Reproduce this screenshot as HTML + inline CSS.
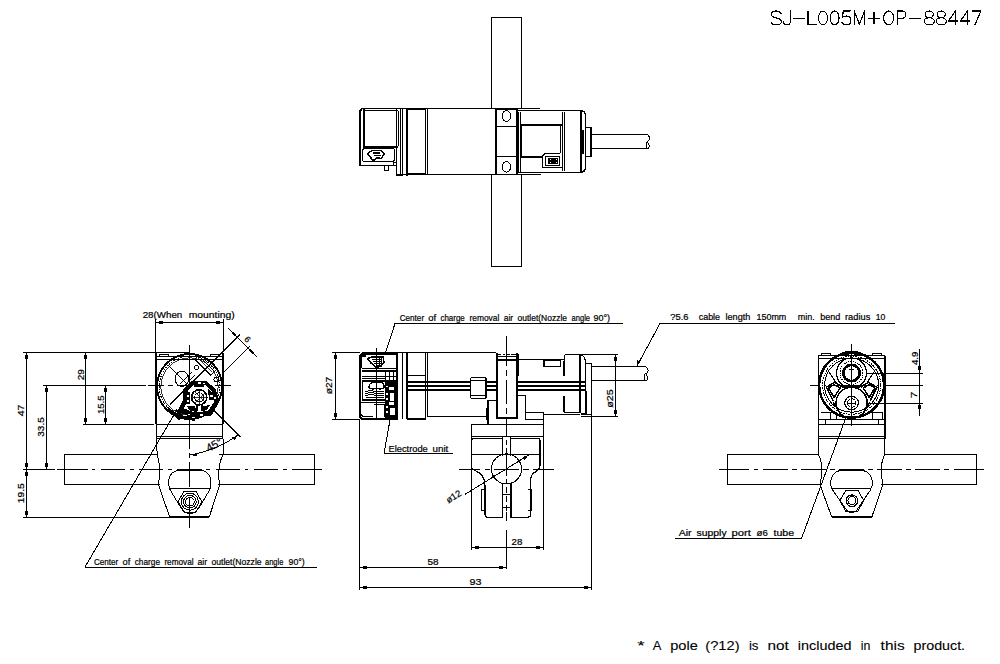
<!DOCTYPE html>
<html><head><meta charset="utf-8"><style>
html,body{margin:0;padding:0;background:#fff;width:1000px;height:664px;overflow:hidden}
svg{display:block}
text{font-family:"Liberation Sans",sans-serif;fill:#000;stroke:#000;stroke-width:0.22px}
</style></head><body>
<svg shape-rendering="crispEdges" width="1000" height="664" viewBox="0 0 1000 664">
<g fill="none" stroke="#000" stroke-width="1" stroke-linecap="square">
<!-- ===== TITLE ===== -->
</g>
<g fill="none" stroke="#000" stroke-width="1.15" stroke-linejoin="round" stroke-linecap="round">
<path d="M781 13.6C780 11.8 778 11 776.2 11C773.2 11 771.5 12.6 771.5 14.5C771.5 16.6 773.5 17.3 776.2 17.9C779.3 18.6 781.5 19.5 781.5 21.6C781.5 23.6 779.5 24.8 776.2 24.8C773.6 24.8 771.8 23.8 771 22.2"/>
<path d="M790.5 11V21C790.5 23.5 789 24.8 787 24.8C785 24.8 783.6 23.6 783.2 21.8"/>
<path d="M793 18.2H804.6M808 11V24.8H816.2"/>
<ellipse cx="823" cy="17.9" rx="4.5" ry="6.9"/>
<ellipse cx="834.6" cy="17.9" rx="4.5" ry="6.9"/>
<path d="M850.3 11H843.2L842.6 17.2C844 16.3 845.3 16 846.6 16C849.3 16 850.8 17.9 850.8 20.4C850.8 23 849 24.8 846.4 24.8C844.3 24.8 842.8 24 842 22.6"/>
<path d="M854.3 24.8V11L859.4 24.3L864.5 11V24.8"/>
<path d="M868 18.2H880M874 12.2V24.2"/>
<ellipse cx="888.7" cy="17.9" rx="5" ry="6.9"/>
<path d="M897.2 24.8V11H902C904.5 11 905.8 12.5 905.8 14.6C905.8 16.7 904.5 18.2 902 18.2H897.2"/>
<path d="M909.4 18.4H920.8"/>
<ellipse cx="929.2" cy="14.4" rx="4.1" ry="3.4"/>
<ellipse cx="929.2" cy="21.3" rx="5.1" ry="3.5"/>
<ellipse cx="941.2" cy="14.4" rx="4.1" ry="3.4"/>
<ellipse cx="941.2" cy="21.3" rx="5.1" ry="3.5"/>
<path d="M955.5 24.8V11L948.4 21H958M967.5 24.8V11L960.4 21H970"/>
<path d="M971.8 11H980.8L975 24.8"/>
</g>

<!-- ===== TOP VIEW ===== -->
<g id="top" fill="none" stroke="#000" stroke-width="1">
  <!-- pole -->
  <path d="M491.5 108V17.5H521.5V108M491.5 175V266.5H521.5V175"/>
  <!-- left connector cap -->
  <path d="M359.8 165.7V111L362 108.5" stroke-width="2"/>
  <path d="M361.5 108.5H402.5M364 110.5H398M359.5 165.7H393.5V162H396.5M393.5 165.7H396.5"/>
  <path d="M363.6 109V147" stroke-width="2"/>
  <path d="M398 110.5V146M400.5 108.5V175.5M396.5 108.5V175.5M402.5 108.5V175.5M396.5 175.5H402.5"/>
  <path d="M363 146.7H398" stroke-width="2"/>
  <rect x="362.5" y="148.5" width="32" height="13" rx="2.5"/>
  <path d="M384.5 165.7V170.5H388.5V165.7"/>
  <!-- connector icon -->
  <path d="M367.5 153.5L372 150.5H381.5L384 154L381.5 158.5H376L374 160H372.5Z" stroke-width="1.5"/>
  <path d="M373 153H380M374 155.5H381M376 158H380" stroke-width="1.2"/>
  <!-- block -->
  <path d="M406.5 108.5V175.5" stroke-width="2"/>
  <path d="M407.5 108.5H425.5V174.5H407.5Z" stroke-width="1"/>
  <path d="M407 109.2H425M407 173.8H425" stroke-width="2"/>
  <path d="M427 108.5V174.5"/>
  <path d="M361.5 108.5H540M396.5 174.5H540"/>
  <!-- main cylinder -->
  <path d="M427.5 108.5H495.5V174.5H427.5" />
  <path d="M495.5 108.5V175" stroke-width="2"/>
  <!-- clamp block -->
  <rect x="496.5" y="109" width="20" height="65.5" rx="2"/>
  <path d="M516.8 109V175" stroke-width="1.8"/>
  <path d="M496.5 126.5H516.5M496.5 156.5H516.5" stroke-width="1.5"/>
  <ellipse cx="506.4" cy="116" rx="4.3" ry="5.3"/>
  <ellipse cx="506.4" cy="166.9" rx="4.3" ry="5.3"/>
  <!-- right section -->
  <path d="M517 110.5H580.5M516 172.5H580.5"/>
  <path d="M518 108.5H540M516 174.5H540.5"/>
  <path d="M518.5 111.5V172M520 111.5V172M521.5 126V157"/>
  <path d="M520 125.2H562.5" stroke-width="2.2"/>
  <path d="M520 157H541.5" stroke-width="2"/>
  <path d="M562.5 111.5V171M564.5 111.5V171"/>
  <path d="M560.5 126V152.5L559.5 153.5H545L542.5 156V167H562.5"/>
  <rect x="545.5" y="156.5" width="14" height="9" rx="1"/>
  <rect x="548" y="158" width="10" height="6" fill="#000" stroke="none"/>
  <path d="M549.5 159.5h1M556 159.5h1M549.5 162.5h1M556 162.5h1" stroke="#fff" stroke-width="1"/>
  <!-- end cap -->
  <path d="M580.7 110.5V172.5" stroke-width="1.8"/>
  <path d="M580.5 110.5Q585 111 585.5 115V168Q585 172 580.5 172.5" stroke-width="1.5"/>
  <path d="M583 130V154" stroke-width="2"/>
  <!-- gland -->
  <path d="M586 127.5H591.5V156.5H586M590 128V156"/>
  <!-- cable -->
  <path d="M591.5 134.5H648M591.5 148.5H648" stroke-width="1.2"/>
  <path d="M647.5 134.5Q650 136 649 140Q647 142 648 143Q650 145 649 147Q648.5 148.5 647 148.5M648 141.5Q646 142 646 145Q646 148 647 148.5"/>
</g>

<!-- ===== LEFT VIEW ===== -->
<g id="left" fill="none" stroke="#000" stroke-width="1">
  <!-- dimension & extension lines -->
  <path d="M23 352.5H190M43 385.5H146M83 424.5H154M23 517.5H170M23 469.5H55"/>
  <path d="M26.5 352.5V517.5M85.5 352.5V424.5M46.5 385.5V469.5M105.5 385.5V424.5"/>
  <path d="M155.5 319V352M223.5 319V352M155.5 322.5H223.5"/>
  <!-- center lines -->
  <path d="M57.2 469.5H87.5M91.7 469.5H95.3M101 469.5H125M129.5 469.5H133.5M139 469.5H163M167.5 469.5H171.5M177.5 469.5H201.5M206 469.5H210M216 469.5H240M244.5 469.5H248M254 469.5H278M282.5 469.5H286.5M292 469.5H321.6"/>
  <path d="M135 385.5H145.5M148 385.5H163.5M167.5 385.5H173M177 385.5H200M206 385.5H208M214.5 385.5H231"/>
  <path d="M189.5 344.5V448.8M189.5 452.9V457.6M189.5 462.4V487M189.5 497V528.2"/>
  <!-- pole -->
  <path d="M158 454.5H64.5V484.5H160M219 454.5H314.5V484.5H218"/>
  <!-- body -->
  <path d="M156 353V424M223 353V424" stroke-width="2"/><path d="M156.5 424V438.5M222.5 424V438.5"/>
  <path d="M156 356.5H223M156 359.5H223M156 424.5H223M156 436.5H223M156 438.5H223"/>
  <rect x="159.5" y="354.5" width="9" height="2"/>
  <rect x="210.5" y="354.5" width="9" height="2"/>
  <!-- clamp -->
  <path d="M156.7 438.5L157.1 454.2Q161.5 469 158.4 484.6L169.5 516.5H209.4L219.8 484.6Q216.5 469 223 454.2V438.5"/>
  <path d="M169.5 517H209.4" stroke-width="1.5"/>
  <path d="M169.5 488.8H210.3M169.5 488.8C167 478 170 470 182 470H197.5C209.5 470 212.5 478 210.3 488.8L199 508Q195 513.5 189.8 513.5Q184.5 513.5 181 508Z"/>
  <path d="M177 470H184M194 470H201" stroke-width="2"/>
  <polygon points="178,501.7 184,491.3 196,491.3 201.8,501.7 196,512 184,512"/>
  <circle cx="189.9" cy="501.7" r="8.5"/>
  <circle cx="189.9" cy="501.7" r="6.3"/>
  <circle cx="189.9" cy="501.7" r="4.3"/>
  <!-- main circle -->
  <circle cx="189.5" cy="386.5" r="32.5" stroke-width="2"/>
  <circle cx="189.5" cy="386.5" r="30.2" stroke-dasharray="1.6 1"/><circle cx="189.5" cy="386.5" r="28.6" stroke-width="0.8"/>
  <!-- diagonal lines -->
  <path d="M167.7 364.6L186 383M213.5 410L222 418.5M170.2 404.3L224 350.5"/>
  <!-- nozzle rect rotated -->
  <path d="M198.5 355.5L214.5 371.8L210.8 375.5L194.8 359.2Z"/><path d="M198.5 357.5L212.5 371.8" stroke-width="0.8"/>
  <!-- tube ellipse -->
  <ellipse cx="181.8" cy="378.8" rx="6.8" ry="7.6"/>
  <path d="M180 384L192 372M183 387L195 375"/>
  <circle cx="196.5" cy="367.5" r="2"/>
  <circle cx="216.5" cy="379.5" r="2.5"/>
  <!-- dark mechanism -->
  <polygon points="183.5,389.4 192.3,380.5 207,381.5 215.5,389 219.5,401.2 211.5,415.5 192.3,417.5 177,411.5 183,400" fill="#000" stroke="none"/>
  <polygon points="187.5,391 194,384.5 205,385 211.5,391 214.5,401 208,411 194,412.5 184,408.5 187.5,400" fill="#fff" stroke="none"/>
  <g fill="#fff" stroke="none">
    <rect x="198" y="382" width="3" height="1.5"/>
    <rect x="203" y="382.5" width="2" height="1.5"/>
    <rect x="188" y="413.5" width="2" height="1.5"/>
    <rect x="200" y="414" width="3" height="1.5"/>
    <rect x="214" y="397" width="1.5" height="2"/>
  </g>
  <g fill="#000" stroke="none">
    <rect x="186" y="392" width="4" height="12"/>
    <polygon points="208,389 212,392 214,400 209,400"/>
    <polygon points="187,406 195,406 197,412 190,411"/>
    <polygon points="203,406 210,405 207,410 202,411"/>
  </g>
  <g fill="#fff" stroke="none">
    <rect x="187" y="395" width="2" height="2"/>
    <rect x="187" y="399.5" width="2" height="2"/>
    <rect x="209.5" y="395" width="3" height="2"/>
  </g>
  <g stroke="#000">
    <circle cx="199.2" cy="397.3" r="7.6" stroke-width="1.6"/>
    <circle cx="199.2" cy="397.3" r="4.5" stroke-width="1"/>
    <path d="M199.2 389.5V405M191.5 397.3H207M193.5 391.6L205 403M205 391.6L193.5 403" stroke-width="0.8"/>
    <path d="M196.8 404.5V411M201.6 404.5V411" stroke-width="1.8"/>
    <path d="M194 385.5H204" stroke-width="2"/>
  </g>
  <path d="M168 409Q180 419 195 419.3" stroke-width="3"/>
  <path d="M176 410L184 418M172 412L180 420" stroke-width="2"/>
  <!-- leader to bottom text -->
  <path d="M85 567L175 413"/>
  <path d="M84.5 567.5H317"/>
  <!-- 6 dim -->
  <path d="M223.5 372.5L250 346M228.5 328.5L257 357M224 350.5L239.8 334.7"/>
  <path d="M232.3 332.3L236 336M249.3 349.3L253.2 353.2" stroke-width="2.6"/>
  <!-- 45 deg -->
  <path d="M213.5 410L240.5 437M190.5 455Q218 450 238 434.9"/>
</g>
<g fill="#000">
  <!-- arrows vertical -->
  <rect x="25" y="355" width="3" height="4"/>
  <rect x="25" y="463" width="3" height="4"/>
  <rect x="25" y="472" width="3" height="4"/>
  <rect x="25" y="511" width="3" height="4"/>
  <rect x="84" y="355" width="3" height="4"/>
  <rect x="84" y="418" width="3" height="4"/>
  <rect x="45" y="388" width="3" height="4"/>
  <rect x="45" y="463" width="3" height="4"/>
  <rect x="104" y="388" width="3" height="4"/>
  <rect x="104" y="418" width="3" height="4"/>
  <rect x="159" y="321" width="4" height="3"/>
  <rect x="216" y="321" width="4" height="3"/>
  <path d="M190.5 455L196.5 453L196.5 456.5Z"/>
  <path d="M238 434.9L232.5 437.5L234.5 440.3Z"/>
</g>


<!-- ===== MIDDLE VIEW ===== -->
<g id="mid" fill="none" stroke="#000" stroke-width="1">
  <!-- dims -->
  <path d="M332 352.5H360M332 419.5H360M335.5 352.5V419.5"/>
  <path d="M359.5 419V590M591.5 381V590M471.5 517V550M543.5 415V550"/>
  <path d="M359.5 567.5H506.5M359.5 587.5H591.5M471.5 547.5H543.5"/>
  <path d="M581 354.5H618M581 416.5H618M615.5 354.5V416.5"/>
  <!-- body left cap -->
  <path d="M362 352.5H496" stroke-width="1.2"/>
  <path d="M359.8 356V416.5L362 418.8H398M359.8 356L362.5 353.3H397" stroke-width="2"/>
  <path d="M361.5 368V357Q361.5 354.5 364 354.5H396M361.5 368H396" stroke-width="1"/>
  <path d="M362 355.5H366" stroke-width="2"/>
  <path d="M362 370.5H396M362 371.8H396M362 376.5H396M362 378.5H385M362 380H385" />
  <rect x="362.5" y="381.5" width="22.5" height="17.5"/>
  <path d="M362 400.5H385M361 402.5H385"/>
  <path d="M373.5 404.5H385V417" stroke-width="1.5"/>
  <path d="M361 414.5L363 416.5H373" stroke-width="1"/>
  <path d="M396.5 353V419.5" stroke-width="2"/>
  <path d="M402.5 353V419M406.5 353V419M407.5 353V419"/>
  <!-- connector symbol top window -->
  <path d="M367.5 358.5L372 357H383L384 362L381 366L376 367.5L371 363Z" stroke-width="1.5"/>
  <path d="M372 359.5H382M372.5 361.5H382M374 363.5H381M375.5 365.5H380" stroke-width="1.1"/>
  <path d="M379 357V367M381.5 358V365" stroke-width="1"/>
  <!-- middle face + hatch -->
  <path d="M369 386Q370 382.5 374 382.5H381Q384 382.5 384 386V388Q380 390 376.5 388Q373 390 369 388Z" stroke-width="1.2"/>
  <path d="M365 391.5L371 390.5L377 392L384 391M365 393.5L372 392.5L378 394L384 393M365 395.5L372 394.5L378 396L384 395M366 397.5H384" stroke-width="1"/>
  <!-- dark column -->
  <path d="M385 380h11.5v39.5h-11.5z" fill="#000" stroke="none"/>
  <g fill="#fff" stroke="none">
    <rect x="386" y="385.5" width="1.6" height="1.6"/>
    <rect x="389" y="386.5" width="5" height="3.8"/>
    <rect x="386" y="392.5" width="1.6" height="2"/>
    <rect x="390" y="392.5" width="4" height="8"/>
    <rect x="386" y="398" width="1.6" height="1.6"/>
    <rect x="388.5" y="402" width="5.5" height="2.6"/>
    <rect x="386" y="406" width="1.6" height="1.6"/>
    <rect x="389.5" y="408" width="5" height="7"/>
    <rect x="386" y="411" width="1.6" height="1.6"/>
  </g>
  <path d="M385 371V380M389 371V380M393 371V380" stroke-width="1"/>
  <!-- cylinder -->
  <path d="M425.5 353V419M427.5 353V416.5"/>
  <path d="M407 418.8H426" stroke-width="2"/>
  <path d="M427 416.5H488M425.5 416.5L424.5 419" />
  <path d="M408 375.5H426" stroke-width="1.5"/>
  <path d="M408 381.5H470M408 386H470M408 390H470M518 382H585M518 386H585M518 390H585" stroke-width="2"/>
  <path d="M487 381.5H496M487 386H496M487 390H496" stroke-width="2"/>
  <!-- nut -->
  <path d="M470.5 378V398M486 378V398" stroke-width="1.5"/>
  <path d="M471 377.5H485.5Q486 377.5 486 379M471 380.5H486M471 395.5H486M471 398.5H486"/>
  <!-- pole block -->
  <path d="M496.5 353V417.5H517V353" stroke-width="2"/>
  <path d="M497 354.8H501M503 354.8H504.5M505.5 354.8H510M511 354.8H516M497 356.5H516"/><path d="M497 359.5H516" stroke-width="2"/><path d="M517 354.5H518.5V359.5"/>
  <path d="M518.5 358V376M517.5 359.5H564.5" />
  <path d="M543.5 360.5H560.5V366H543.5Z"/>
  <path d="M544 360.5V366.5" stroke-width="2"/>
  <path d="M563.5 361V375.5M563.5 396V411.5" stroke-width="1.5"/>
  <path d="M564.5 354.5H580V412.5H564.5M564.5 354.5V375.5M564.5 396V412.5"/>
  <path d="M580 354.5V413" stroke-width="2"/>
  <path d="M580.5 354.5Q585 356 585.5 362V414H581M585.5 382V414" stroke-width="1.2"/>
  <path d="M585.5 363H591.5V414.5H585.5M586 391V414M591.5 414.5V416"/>
  <!-- step around pole -->
  <path d="M488 424V400.5H496M487 408V420" stroke-width="1.5"/>
  <path d="M518 395.5H525.5V412.5H543.5V419.5H525.5V412.5"/>
  <path d="M543.5 414.5H580" />
  <!-- cable -->
  <path d="M591.5 366.5H646M591.5 380.5H646" stroke-width="1.2"/>
  <path d="M645.5 366.5Q648.5 368 648 372Q646 374 646.5 375Q648.5 377 648 379Q647.5 380.5 645.5 380.5M646 373.5Q644 374 644 377Q644 380 645.5 380.5"/>
  <!-- center vertical (pole) -->
  <path d="M506.5 336V365.8M506.5 369.7V376M506.5 380V404M506.5 408V413.8M506.5 417.7V437M506.5 440V445M506.5 448V476M506.5 479V484M506.5 487V493M506.5 496V502M506.5 505V511M506.5 512V521M506.5 530V569"/>
  <path d="M376.5 348V420"/>
  <!-- clamp -->
  <rect x="471.5" y="424.5" width="72" height="11.5"/>
  <path d="M471.5 424.5V550M543.5 414.5V550"/>
  <path d="M472 440Q472 438.5 474 438.5H501.5M511 438.5H538Q540 438.5 540 440V465Q540 469 536 471.5Q531 474 530.5 480V514.5Q530.5 517.3 527.5 517.3H511V484M502.5 484V517.3H488Q485 517.3 485 514.5V486Q485 478 480 473.5Q474 469.5 472 468.6" stroke-width="1.2"/>
  <path d="M472 454.5H540M502.5 437V456M510.5 437V456M502.5 483V517M510.5 483V517M502.5 494.5H510.5M502.5 507.5H510.5"/>
  <path d="M485 489.4H481V510H485M528 489.4H531V510H528"/>
  <circle cx="506.5" cy="468.9" r="15"/>
  <path d="M459.2 469.5H480.2M485 469.5H489.7M493.9 469.5H519M523.3 469.5H528.5M532.7 469.5H553.7"/>
  <path d="M465 494.4L528.7 455"/>
  <!-- leaders and labels -->
  <path d="M395 323.5H622.5M395 323.5L385.5 353"/>
  <path d="M384 453.5H453M384 453.5L390 420"/>
  <path d="M660 323.5H895M660 323.5L637 366"/>
</g>
<g fill="#000">
  <rect x="334" y="355" width="3" height="4"/>
  <rect x="334" y="413" width="3" height="4"/>
  <rect x="614" y="357" width="3" height="4"/>
  <rect x="614" y="410" width="3" height="4"/>
  <rect x="363" y="566" width="4" height="3"/>
  <rect x="499" y="566" width="4" height="3"/>
  <rect x="363" y="586" width="4" height="3"/>
  <rect x="584" y="586" width="4" height="3"/>
  <rect x="475" y="546" width="4" height="3"/>
  <rect x="536" y="546" width="4" height="3"/>
  <path d="M637 366L636.5 360L640.5 361.5Z"/>
  <path d="M528.7 455L522.5 457L524.5 460Z"/>
  <path d="M489.5 479.3L495.8 477.4L493.8 474.4Z"/>
</g>


<!-- ===== RIGHT VIEW ===== -->
<g id="right" fill="none" stroke="#000" stroke-width="1">
  <!-- pole -->
  <path d="M818 454.5H727.5V484.5H822M885 454.5H976.5V484.5H881"/>
  <path d="M719 469.5H749.4M754.2 469.5H758.2M763 469.5H787.9M792 469.5H796.7M801.4 469.5H825.6M830 469.5H834.5M839 469.5H863.5M868.2 469.5H873.1M877.3 469.5H901.8M906 469.5H911M915.1 469.5H939.6M943.8 469.5H948.7M953.6 469.5H983.75"/>

  <path d="M839 469.5H846M856 469.5H863" stroke-width="2"/>
  <!-- body -->
  <path d="M818.5 356V438.5M885 356V438.5" stroke-width="1.5"/>
  <path d="M818 355.5H885M818 358.5H885M818 419.5H885M818 424.5H885M818 436.5H885M818 438.5H885"/>
  <rect x="821.5" y="353.5" width="9" height="2"/>
  <rect x="872.5" y="353.5" width="9" height="2"/>
  <path d="M820.5 412.5H836V419M867 412.5H882.5V419M825.5 419.5V424M878 419.5V424M830.5 412.5V419M872.5 412.5V419"/>
  <!-- circles -->
  <circle cx="851.6" cy="385.2" r="32.5" stroke-width="2.5"/>
  <circle cx="851.6" cy="385.2" r="29" stroke-width="1" stroke-dasharray="1.5 1"/>
  <circle cx="851.6" cy="385.2" r="27"/>
  <circle cx="851.5" cy="373" r="15" stroke-width="1.2"/>
  <circle cx="851.5" cy="373" r="11.5" stroke-width="1" stroke-dasharray="1.2 1"/>
  <circle cx="851.5" cy="373" r="8.2" stroke-width="2.8"/>
  <path d="M849 369.5H854M851.6 369.5V375" stroke-width="1"/>
  <path d="M841 354.5Q851.6 350.5 862 354.5" stroke-width="3.5"/>
  <circle cx="851.6" cy="402.8" r="15.5" stroke-width="1.5"/>
  <circle cx="851.6" cy="403" r="6.8" stroke-width="1.2"/>
  <circle cx="851.6" cy="403" r="4.2"/>
  <path d="M847 403H856M851.6 399V407"/>
  <!-- side notches -->
  <path d="M842.7 387.3L834.8 382.2L826.3 387.3L833 400.8M828.5 388L834 384.5L840 388L834 397.5Z" stroke-width="1.5"/>
  <path d="M860.5 387.3L868.4 382.2L876.9 387.3L870.2 400.8M874.7 388L869.2 384.5L863.2 388L869.2 397.5Z" stroke-width="1.5"/>
  <path d="M843 386.7H860" stroke-width="2"/>
  <path d="M836 382.5L829 372M867 382.5L874 372M833 402L839 410M870 402L864 410" stroke-width="1"/>
  <!-- center lines -->
  <path d="M810 385.5H820M824 385.5H826M830 385.5H873M877 385.5H879M883 385.5H923"/>
  <path d="M851.5 344V426"/>
  <path d="M866 373.5H923M866 403.5H923M919.5 349V415.5"/>
  <!-- clamp -->
  <path d="M818.5 438.5V454.5Q821.8 461 821.8 469.5Q821.8 477 820 484.5L831.5 516.5H872L883 484.5Q881.3 477 881.3 469.5Q881.3 461 884.8 454.5V438.5"/>
  <path d="M831.5 517H872" stroke-width="1.5"/>
  <path d="M832 488.5H871M831.5 488.5C829 478 832.5 470 845 470H858C870.5 470 874 478 871.5 488.5L856.5 510.5Q851.7 515 847 510.5Z"/>
  <polygon points="839.8,500.7 845.8,490.4 857.9,490.4 863.9,500.7 857.9,511 845.8,511"/>
  <circle cx="851.9" cy="500.7" r="5.8" stroke-width="1.2"/>
  <circle cx="851.9" cy="500.7" r="4"/>
  <!-- leader -->
  <path d="M675 538.5H801.5L845.6 418.3"/>
</g>
<g fill="#000">
  <rect x="918" y="366" width="3" height="4"/>
  <rect x="918" y="405" width="3" height="4"/>
</g>

<g id="texts">
<text x="399.7" y="321" font-size="9.3" textLength="24.4" lengthAdjust="spacingAndGlyphs">Center</text>
<text x="428.3" y="321" font-size="9.3" textLength="7.9" lengthAdjust="spacingAndGlyphs">of</text>
<text x="440.4" y="321" font-size="9.3" textLength="24.4" lengthAdjust="spacingAndGlyphs">charge</text>
<text x="469.5" y="321" font-size="9.3" textLength="29.8" lengthAdjust="spacingAndGlyphs">removal</text>
<text x="503.7" y="321" font-size="9.3" textLength="9.5" lengthAdjust="spacingAndGlyphs">air</text>
<text x="517.5" y="321" font-size="9.3" textLength="49.5" lengthAdjust="spacingAndGlyphs">outlet(Nozzle</text>
<text x="571.6" y="321" font-size="9.3" textLength="18.4" lengthAdjust="spacingAndGlyphs">angle</text>
<text x="593.4" y="321" font-size="9.3" textLength="16.7" lengthAdjust="spacingAndGlyphs">90°)</text>
<text x="93.9" y="564.8" font-size="9.3" textLength="24.4" lengthAdjust="spacingAndGlyphs">Center</text>
<text x="122.6" y="564.8" font-size="9.3" textLength="7.7" lengthAdjust="spacingAndGlyphs">of</text>
<text x="134.7" y="564.8" font-size="9.3" textLength="25.3" lengthAdjust="spacingAndGlyphs">charge</text>
<text x="164.4" y="564.8" font-size="9.3" textLength="29.2" lengthAdjust="spacingAndGlyphs">removal</text>
<text x="197.5" y="564.8" font-size="9.3" textLength="9.7" lengthAdjust="spacingAndGlyphs">air</text>
<text x="211.5" y="564.8" font-size="9.3" textLength="50.1" lengthAdjust="spacingAndGlyphs">outlet(Nozzle</text>
<text x="265.1" y="564.8" font-size="9.3" textLength="18.2" lengthAdjust="spacingAndGlyphs">angle</text>
<text x="288.5" y="564.8" font-size="9.3" textLength="16.2" lengthAdjust="spacingAndGlyphs">90°)</text>
<text x="670.3" y="319.8" font-size="9.3" textLength="18.2" lengthAdjust="spacingAndGlyphs">?5.6</text>
<text x="698.7" y="319.8" font-size="9.3" textLength="21.4" lengthAdjust="spacingAndGlyphs">cable</text>
<text x="725.5" y="319.8" font-size="9.3" textLength="24.8" lengthAdjust="spacingAndGlyphs">length</text>
<text x="756.5" y="319.8" font-size="9.3" textLength="29.8" lengthAdjust="spacingAndGlyphs">150mm</text>
<text x="797.7" y="319.8" font-size="9.3" textLength="17.1" lengthAdjust="spacingAndGlyphs">min.</text>
<text x="820.2" y="319.8" font-size="9.3" textLength="20.1" lengthAdjust="spacingAndGlyphs">bend</text>
<text x="845.0" y="319.8" font-size="9.3" textLength="25.3" lengthAdjust="spacingAndGlyphs">radius</text>
<text x="875.7" y="319.8" font-size="9.3" textLength="9.6" lengthAdjust="spacingAndGlyphs">10</text>
<text x="142.7" y="317.5" font-size="9.6" textLength="39.6" lengthAdjust="spacingAndGlyphs">28(When</text>
<text x="188.7" y="317.5" font-size="9.6" textLength="46.1" lengthAdjust="spacingAndGlyphs">mounting)</text>
<text x="678.7" y="535.9" font-size="9.3" textLength="12.9" lengthAdjust="spacingAndGlyphs">Air</text>
<text x="696.6" y="535.9" font-size="9.3" textLength="30.0" lengthAdjust="spacingAndGlyphs">supply</text>
<text x="731.6" y="535.9" font-size="9.3" textLength="19.3" lengthAdjust="spacingAndGlyphs">port</text>
<text x="756.6" y="535.9" font-size="9.3" textLength="11.2" lengthAdjust="spacingAndGlyphs">ø6</text>
<text x="773.5" y="535.9" font-size="9.3" textLength="20.6" lengthAdjust="spacingAndGlyphs">tube</text>
<text x="388.5" y="451.8" font-size="9.3" textLength="39.3" lengthAdjust="spacingAndGlyphs">Electrode</text>
<text x="432.5" y="451.8" font-size="9.3" textLength="15.8" lengthAdjust="spacingAndGlyphs">unit</text>
<text x="511.6" y="544.9" font-size="9.1" textLength="10.8" lengthAdjust="spacingAndGlyphs">28</text>
<text x="427.4" y="565" font-size="9.1" textLength="11.1" lengthAdjust="spacingAndGlyphs">58</text>
<text x="469.4" y="584.8" font-size="9.1" textLength="12.0" lengthAdjust="spacingAndGlyphs">93</text>
<text x="637.3" y="649.5" font-size="13" style="stroke-width:0.1px" textLength="7.4" lengthAdjust="spacingAndGlyphs">*</text>
<text x="652.7" y="649.5" font-size="13" style="stroke-width:0.1px" textLength="8.6" lengthAdjust="spacingAndGlyphs">A</text>
<text x="670.2" y="649.5" font-size="13" style="stroke-width:0.1px" textLength="27.6" lengthAdjust="spacingAndGlyphs">pole</text>
<text x="705.3" y="649.5" font-size="13" style="stroke-width:0.1px" textLength="34.3" lengthAdjust="spacingAndGlyphs">(?12)</text>
<text x="748.9" y="649.5" font-size="13" style="stroke-width:0.1px" textLength="9.6" lengthAdjust="spacingAndGlyphs">is</text>
<text x="767.4" y="649.5" font-size="13" style="stroke-width:0.1px" textLength="21.3" lengthAdjust="spacingAndGlyphs">not</text>
<text x="797.8" y="649.5" font-size="13" style="stroke-width:0.1px" textLength="53.7" lengthAdjust="spacingAndGlyphs">included</text>
<text x="860.8" y="649.5" font-size="13" style="stroke-width:0.1px" textLength="9.6" lengthAdjust="spacingAndGlyphs">in</text>
<text x="880.6" y="649.5" font-size="13" style="stroke-width:0.1px" textLength="24.0" lengthAdjust="spacingAndGlyphs">this</text>
<text x="913.5" y="649.5" font-size="13" style="stroke-width:0.1px" textLength="51.6" lengthAdjust="spacingAndGlyphs">product.</text>
<text transform="translate(83.9,380.2) rotate(-90)" font-size="9.5" textLength="11.1" lengthAdjust="spacingAndGlyphs">29</text>
<text transform="translate(104.3,414.1) rotate(-90)" font-size="9.5" textLength="18.7" lengthAdjust="spacingAndGlyphs">15.5</text>
<text transform="translate(24.0,416.3) rotate(-90)" font-size="9.5" textLength="11.8" lengthAdjust="spacingAndGlyphs">47</text>
<text transform="translate(43.7,436.7) rotate(-90)" font-size="9.5" textLength="19.4" lengthAdjust="spacingAndGlyphs">33.5</text>
<text transform="translate(24.2,503.3) rotate(-90)" font-size="9.5" textLength="20.1" lengthAdjust="spacingAndGlyphs">19.5</text>
<text transform="translate(332.3,394.3) rotate(-90)" font-size="9.5" textLength="17.6" lengthAdjust="spacingAndGlyphs">ø27</text>
<text transform="translate(613.2,407.8) rotate(-90)" font-size="9.5" textLength="18.5" lengthAdjust="spacingAndGlyphs">ø25</text>
<text transform="translate(917.6,365.1) rotate(-90)" font-size="9.5" textLength="13.4" lengthAdjust="spacingAndGlyphs">4.9</text>
<text transform="translate(917.1,398.3) rotate(-90)" font-size="9.5" textLength="6.6" lengthAdjust="spacingAndGlyphs">7</text>
<text transform="translate(448.5,503.5) rotate(-32)" font-size="9.3" textLength="16" lengthAdjust="spacingAndGlyphs">ø12</text>
<text transform="translate(243.8,339.8) rotate(45)" font-size="8.5">6</text>
<text transform="translate(208.8,452.3) rotate(-30)" font-size="11">45°</text>
</g>
</svg>
</body></html>
